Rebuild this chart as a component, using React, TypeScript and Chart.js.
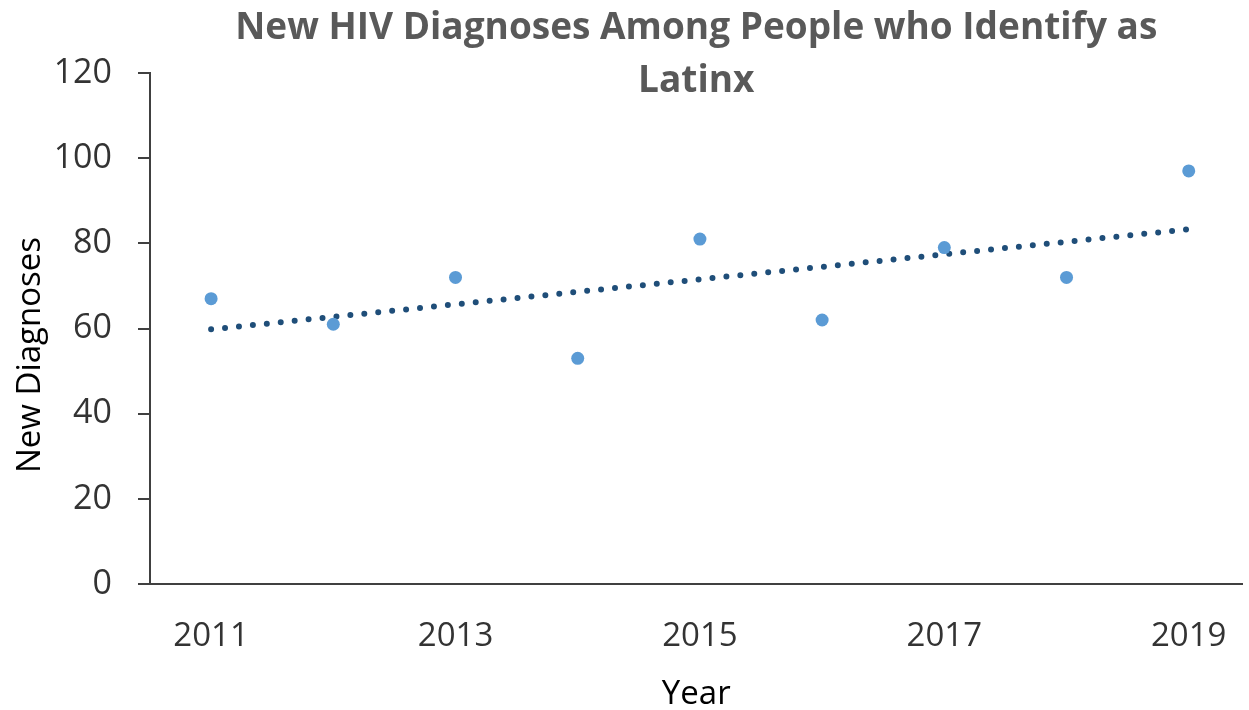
import React, { useEffect, useRef } from "react";
import { Chart, registerables } from "chart.js";

Chart.register(...registerables);

// ---- Data ----
const years = [2011, 2012, 2013, 2014, 2015, 2016, 2017, 2018, 2019];
const newDiagnoses = [67, 61, 72, 53, 81, 62, 79, 72, 97];
const trendYears = [2011, 2019];
const trendValues = [59.8, 83.3];
const xTickYears = [2011, 2013, 2015, 2017, 2019];
const yTickValues = [0, 20, 40, 60, 80, 100, 120];
const titleLines = ["New HIV Diagnoses Among People who Identify as", "Latinx"];
const yAxisTitle = "New Diagnoses";
const xAxisTitle = "Year";

const FONT = '"Open Sans", "DejaVu Sans", sans-serif';

const textPlugin = {
  id: "customText",
  afterDraw(chart: any) {
    const { ctx, chartArea } = chart;
    ctx.save();
    // main title, centred over the plot area
    ctx.fillStyle = "#595959";
    ctx.font = `bold 37px ${FONT}`;
    ctx.textAlign = "center";
    ctx.textBaseline = "alphabetic";
    const cx = (chartArea.left + chartArea.right) / 2;
    const baselines = [39, 92];
    titleLines.forEach((line, i) => ctx.fillText(line, cx, baselines[i]));
    // y axis title
    ctx.fillStyle = "#000000";
    ctx.font = `33px ${FONT}`;
    ctx.translate(40, 355);
    ctx.rotate(-Math.PI / 2);
    ctx.textAlign = "center";
    ctx.textBaseline = "alphabetic";
    ctx.fillText(yAxisTitle, 0, 0);
    ctx.restore();
  },
};

export default function App() {
  const canvasRef = useRef<HTMLCanvasElement | null>(null);

  useEffect(() => {
    const canvas = canvasRef.current;
    if (!canvas) return;
    const chart = new Chart(canvas, {
      type: "scatter",
      data: {
        datasets: [
          {
            label: "Trend",
            data: trendYears.map((x, i) => ({ x, y: trendValues[i] })),
            showLine: true,
            borderColor: "#1F4E79",
            borderWidth: 6,
            borderDash: [0, 14],
            borderCapStyle: "round",
            pointRadius: 0,
            pointHoverRadius: 0,
            fill: false,
            order: 2,
          } as any,
          {
            label: "New Diagnoses",
            data: years.map((x, i) => ({ x, y: newDiagnoses[i] })),
            backgroundColor: "#5B9BD5",
            borderWidth: 0,
            pointRadius: 6.5,
            pointHoverRadius: 6.5,
            order: 1,
          },
        ],
      },
      options: {
        animation: false,
        responsive: false,
        maintainAspectRatio: false,
        layout: { padding: { top: 73, right: -7, bottom: 0, left: 0 } },
        plugins: {
          legend: { display: false },
          title: { display: false },
          tooltip: { enabled: false },
        },
        scales: {
          x: {
            type: "linear",
            min: 2010.5,
            max: 2019.44,
            afterBuildTicks: (scale: any) => {
              scale.ticks = xTickYears.map((v) => ({ value: v }));
            },
            afterFit: (scale: any) => {
              scale.height = 126;
              scale.paddingLeft = 0;
              scale.paddingRight = 0;
            },
            grid: { display: false, drawTicks: false },
            border: { display: true, color: "#404040", width: 2 },
            ticks: {
              color: "#333333",
              font: { family: FONT, size: 33 },
              padding: 33,
              maxRotation: 0,
              autoSkip: false,
              callback: (v: any) => String(v),
            },
            title: {
              display: true,
              text: xAxisTitle,
              color: "#000000",
              font: { family: FONT, size: 33 },
              padding: { top: 0, bottom: -4 },
            },
          },
          y: {
            type: "linear",
            min: 0,
            max: 120,
            afterBuildTicks: (scale: any) => {
              scale.ticks = yTickValues.map((v) => ({ value: v }));
            },
            afterFit: (scale: any) => {
              scale.width = 150;
              scale.paddingTop = 0;
              scale.paddingBottom = 0;
            },
            grid: {
              display: true,
              drawOnChartArea: false,
              drawTicks: true,
              tickLength: 12,
              color: "#404040",
              lineWidth: 2,
            },
            border: { display: true, color: "#404040", width: 2 },
            ticks: {
              color: "#333333",
              font: { family: FONT, size: 34 },
              padding: 26,
              callback: (v: any) => String(v),
            },
          },
        },
      },
      plugins: [textPlugin],
    });
    return () => chart.destroy();
  }, []);

  return (
    <div style={{ position: "absolute", left: 0, top: 0, width: 1249, height: 710, background: "#ffffff" }}>
      <canvas ref={canvasRef} width={1249} height={710} style={{ display: "block" }} />
    </div>
  );
}
